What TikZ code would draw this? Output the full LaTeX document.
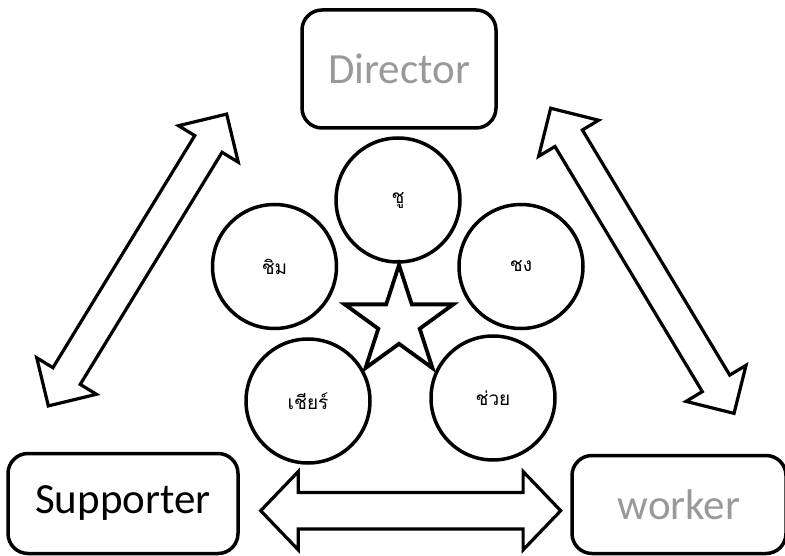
\documentclass[tikz,border=0pt]{standalone}
\usepackage{fontspec}
\setmainfont{Carlito}
\newfontfamily\thaifont[Script=Thai]{Loma}
\definecolor{txtgray}{HTML}{999999}
\begin{document}
\begin{tikzpicture}[x=1pt,y=-1pt,
  rolebox/.style={draw=black, line width=3.5pt, rounded corners=20pt, fill=white, inner sep=0pt,
    font=\fontsize{43}{50}\selectfont},
  member/.style={circle, draw=black, line width=3.5pt, minimum size=124pt, inner sep=0pt,
    font=\thaifont\fontsize{19}{22}\selectfont},
  blockarrow/.style={draw=black, line width=3.2pt, line join=miter, fill=white},
  starline/.style={draw=black, line width=3.8pt, line join=miter, fill=white}]
\useasboundingbox (0,0) rectangle (785,556);

% role boxes
\node[rolebox, text=txtgray, minimum width=194pt, minimum height=118pt] (director) at (399,69) {Director};
\node[rolebox, text=black, minimum width=230pt, minimum height=100pt] (supporter) at (123,503.5) {Supporter};
\node[rolebox, text=txtgray, minimum width=214pt, minimum height=98pt] (worker) at (679,504.5) {worker};

% members
\node[member] (chu) at (398,200) {ชู};
\node[member] (chim) at (274.5,266.5) {ชิม};
\node[member] (chong) at (521,266.5) {ชง};
\node[member] (chia) at (308,401) {เชียร์};
\node[member] (chuai) at (493,398) {ช่วย};

% star
\draw[starline] (399,265) -- (411.8,304.4) -- (453.2,304.4) -- (419.7,328.7) -- (432.5,368.1)
  -- (399,343.8) -- (365.5,368.1) -- (378.3,328.7) -- (344.8,304.4) -- (386.2,304.4) -- cycle;

% double block arrows
\begin{scope}[shift={(137.5,260)}, rotate=58.57]
\draw[blockarrow] (171,0) -- (136,35) -- (136,16) -- (-136,16) -- (-136,35) -- (-171,0)
  -- (-136,-35) -- (-136,-16) -- (136,-16) -- (136,-35) -- cycle;
\end{scope}
\begin{scope}[shift={(642.35,260.8)}, rotate=-58.99]
\draw[blockarrow] (178,0) -- (143,35) -- (143,16) -- (-143,16) -- (-143,35) -- (-178,0)
  -- (-143,-35) -- (-143,-16) -- (143,-16) -- (143,-35) -- cycle;
\end{scope}
\begin{scope}[shift={(410.7,510.7)}]
\draw[blockarrow] (150,0) -- (112.4,39.2) -- (112.4,18.3) -- (-112.4,18.3) -- (-112.4,39.2) -- (-150,0)
  -- (-112.4,-39.2) -- (-112.4,-18.3) -- (112.4,-18.3) -- (112.4,-39.2) -- cycle;
\end{scope}
\end{tikzpicture}
\end{document}
